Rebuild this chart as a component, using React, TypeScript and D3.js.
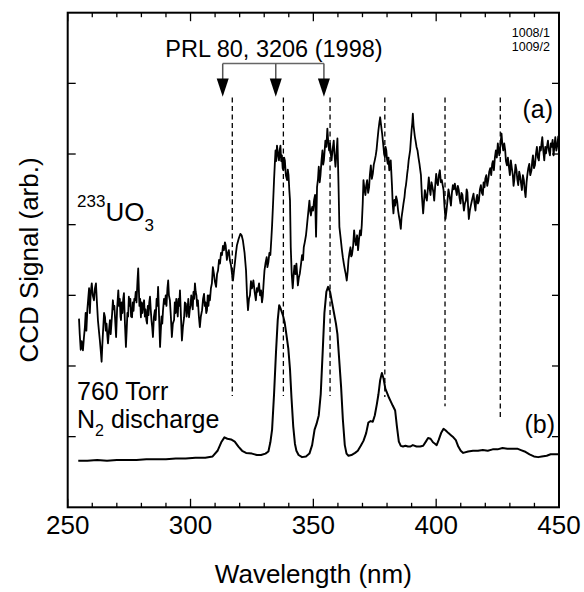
import React from 'react';
import * as d3 from 'd3';

// 233UO3 emission, trace (a) [wavelength nm, signal arb.]
const uo3Trace: [number, number][] = [
  [254.6, 2.67], [254.9, 2.45], [255.3, 2.23], [255.7, 2.35], [256.2, 2.22], [256.6, 2.4], [257.0, 2.55],
  [257.3, 2.75], [257.6, 2.5], [258.0, 2.8], [258.3, 2.93], [258.7, 3.1], [259.0, 2.75], [259.4, 3.05],
  [259.8, 3.17], [260.2, 3.0], [260.7, 2.93], [261.1, 3.1], [261.5, 3.17], [261.9, 2.9], [262.3, 2.65],
  [262.7, 2.5], [263.1, 2.36], [263.5, 2.2], [263.8, 2.06], [264.1, 2.3], [264.4, 2.5], [264.8, 2.75],
  [265.2, 2.69], [265.5, 2.5], [265.8, 2.6], [266.1, 2.45], [266.4, 2.32], [266.8, 2.5], [267.2, 2.65],
  [267.5, 2.45], [267.8, 2.6], [268.1, 2.75], [268.4, 2.93], [268.7, 2.8], [269.0, 2.85], [269.4, 2.6],
  [269.7, 2.41], [270.1, 2.8], [270.6, 3.07], [270.9, 2.85], [271.2, 2.95], [271.5, 2.7], [271.7, 2.65],
  [272.0, 2.9], [272.3, 2.75], [272.6, 2.95], [272.9, 3.03], [273.3, 2.6], [273.7, 2.27], [274.0, 2.5],
  [274.3, 2.75], [274.6, 2.7], [274.9, 2.98], [275.2, 2.85], [275.5, 2.95], [275.8, 2.7], [276.2, 2.69],
  [276.5, 2.9], [276.8, 2.78], [277.1, 2.95], [277.4, 2.93], [277.7, 3.05], [278.0, 2.9], [278.4, 3.2],
  [278.7, 3.38], [279.0, 3.05], [279.2, 2.85], [279.5, 2.95], [279.8, 2.69], [280.1, 2.9], [280.4, 2.75],
  [280.7, 2.85], [281.1, 2.93], [281.4, 2.7], [281.7, 2.8], [282.0, 2.65], [282.3, 2.6], [282.6, 2.85],
  [282.9, 2.72], [283.2, 2.9], [283.5, 2.98], [283.8, 2.8], [284.1, 2.65], [284.4, 2.55], [284.7, 2.41],
  [285.1, 2.7], [285.5, 2.79], [285.8, 2.65], [286.2, 2.95], [286.5, 2.85], [286.8, 3.12], [287.2, 2.7],
  [287.6, 2.27], [287.9, 2.5], [288.2, 2.7], [288.5, 2.6], [288.8, 2.79], [289.2, 2.95], [289.6, 2.88],
  [289.9, 3.0], [290.2, 2.85], [290.6, 3.1], [290.9, 3.21], [291.2, 3.0], [291.6, 2.93], [292.0, 2.7],
  [292.4, 2.41], [292.8, 2.6], [293.3, 2.65], [293.6, 2.9], [293.9, 2.75], [294.2, 2.95], [294.5, 2.83],
  [294.8, 2.7], [295.1, 2.95], [295.4, 2.85], [295.7, 3.07], [296.1, 2.7], [296.5, 2.36], [296.9, 2.55],
  [297.4, 2.69], [297.7, 2.9], [298.1, 2.88], [298.4, 2.7], [298.8, 2.8], [299.1, 2.95], [299.4, 2.69],
  [299.7, 2.8], [300.0, 2.85], [300.3, 3.0], [300.6, 2.93], [300.9, 2.8], [301.2, 3.05], [301.5, 2.95],
  [301.8, 3.17], [302.1, 3.05], [302.4, 3.0], [302.7, 2.85], [303.0, 2.93], [303.4, 2.7], [303.8, 2.55],
  [304.2, 2.7], [304.7, 2.79], [305.1, 2.95], [305.5, 3.02], [305.8, 2.85], [306.1, 2.9], [306.4, 2.75],
  [306.7, 2.79], [307.0, 3.0], [307.3, 2.85], [307.6, 3.0], [307.9, 2.93], [308.3, 3.1], [308.7, 3.17],
  [309.1, 3.4], [309.5, 3.31], [309.9, 3.2], [310.4, 3.12], [310.8, 3.3], [311.2, 3.35], [311.6, 3.5],
  [312.0, 3.45], [312.4, 3.6], [312.8, 3.57], [313.2, 3.7], [313.6, 3.64], [314.0, 3.75], [314.3, 3.71],
  [314.8, 3.5], [315.2, 3.6], [315.6, 3.64], [316.0, 3.5], [316.5, 3.42], [316.9, 3.3], [317.3, 3.21],
  [317.7, 3.35], [318.1, 3.47], [318.5, 3.6], [318.9, 3.71], [319.6, 3.8], [320.3, 3.87], [320.8, 3.85],
  [321.3, 3.78], [322.0, 3.6], [322.6, 3.35], [323.0, 3.0], [323.4, 2.79], [323.8, 2.95], [324.2, 3.0],
  [324.6, 3.2], [325.0, 3.1], [325.6, 3.21], [326.1, 3.05], [326.6, 2.93], [327.0, 3.1], [327.3, 3.05],
  [327.9, 3.17], [328.3, 3.0], [328.7, 3.07], [329.1, 2.9], [329.4, 2.98], [329.8, 3.2], [330.1, 3.35],
  [330.5, 3.45], [331.0, 3.54], [331.3, 3.4], [331.7, 3.47], [332.1, 3.6], [332.5, 3.57], [332.9, 3.8],
  [333.2, 3.99], [333.6, 4.3], [334.0, 4.63], [334.3, 4.85], [334.6, 5.05], [334.9, 4.9], [335.2, 5.12],
  [335.6, 5.0], [336.0, 4.91], [336.3, 5.05], [336.6, 5.12], [336.9, 4.9], [337.2, 4.98], [337.5, 4.8],
  [337.8, 4.77], [338.1, 4.95], [338.4, 4.91], [338.8, 4.7], [339.3, 4.63], [339.6, 4.78], [339.9, 4.7],
  [340.2, 4.5], [340.5, 4.34], [340.8, 3.68], [341.2, 3.3], [341.6, 3.1], [342.0, 3.3], [342.3, 3.42],
  [342.7, 3.3], [343.1, 3.45], [343.4, 3.3], [343.7, 3.14], [344.1, 3.25], [344.5, 3.31], [345.0, 3.45],
  [345.4, 3.57], [345.8, 3.5], [346.1, 3.68], [346.5, 3.75], [347.0, 3.85], [347.3, 3.95], [347.6, 4.06],
  [348.0, 4.2], [348.4, 4.34], [348.7, 4.2], [349.0, 4.13], [349.5, 4.25], [349.9, 4.2], [350.3, 4.35],
  [350.7, 4.42], [351.1, 3.83], [351.5, 4.53], [351.9, 4.65], [352.2, 4.82], [352.6, 4.6], [352.9, 4.7],
  [353.3, 4.9], [353.7, 5.05], [354.0, 4.85], [354.3, 4.91], [354.6, 5.05], [354.9, 5.19], [355.3, 5.1],
  [355.7, 5.36], [356.0, 5.2], [356.4, 5.05], [356.8, 5.15], [357.1, 5.0], [357.4, 4.91], [357.8, 5.05],
  [358.3, 5.19], [358.6, 5.0], [359.0, 4.82], [359.4, 5.0], [359.8, 5.22], [360.2, 4.63], [360.6, 3.97],
  [361.2, 3.78], [361.6, 3.65], [362.0, 3.54], [362.4, 3.45], [362.9, 3.35], [363.2, 3.3], [363.6, 3.21],
  [364.0, 3.35], [364.3, 3.5], [364.7, 3.6], [365.1, 3.68], [365.4, 3.55], [365.7, 3.57], [366.2, 3.7],
  [366.6, 3.92], [366.9, 3.8], [367.3, 3.71], [367.8, 3.85], [368.2, 3.64], [368.6, 3.8], [369.0, 3.92],
  [369.4, 3.85], [369.7, 3.99], [370.1, 4.3], [370.4, 4.63], [370.8, 4.5], [371.2, 4.42], [371.5, 4.55],
  [371.9, 4.63], [372.3, 4.45], [372.7, 4.53], [373.0, 4.7], [373.4, 4.84], [373.8, 4.65], [374.2, 4.72],
  [374.6, 4.85], [375.0, 4.91], [375.4, 4.98], [375.7, 5.05], [376.1, 5.2], [376.5, 5.34], [376.9, 5.45],
  [377.2, 5.52], [377.6, 5.4], [378.0, 5.29], [378.5, 5.12], [378.8, 5.0], [379.1, 4.96], [379.4, 5.1],
  [379.7, 5.05], [380.0, 4.92], [380.3, 4.86], [380.6, 4.95], [380.9, 4.77], [381.2, 4.85], [381.5, 4.91],
  [382.0, 4.56], [382.3, 4.3], [382.6, 4.16], [383.0, 4.35], [383.3, 4.27], [383.7, 4.4], [384.1, 4.34],
  [384.5, 4.2], [384.8, 4.13], [385.2, 4.05], [385.6, 3.94], [385.9, 4.1], [386.3, 4.2], [386.7, 4.3],
  [387.1, 4.39], [387.4, 4.5], [387.7, 4.56], [388.0, 4.65], [388.2, 4.72], [388.5, 4.8], [388.8, 4.91],
  [389.1, 4.98], [389.4, 5.05], [389.7, 5.2], [390.0, 5.34], [390.3, 5.45], [390.5, 5.57], [390.8, 5.4],
  [391.0, 5.34], [391.3, 5.25], [391.6, 5.19], [392.0, 5.1], [392.4, 5.05], [392.8, 4.95], [393.2, 4.86],
  [393.5, 4.78], [393.8, 4.7], [394.2, 4.4], [394.7, 4.16], [395.1, 4.35], [395.4, 4.49], [395.8, 4.4],
  [396.2, 4.34], [396.6, 4.5], [397.0, 4.67], [397.4, 4.5], [397.7, 4.42], [398.1, 4.6], [398.5, 4.53],
  [398.9, 4.45], [399.2, 4.34], [399.6, 4.55], [400.0, 4.72], [400.3, 4.6], [400.7, 4.56], [401.1, 4.7],
  [401.5, 4.77], [401.9, 4.6], [402.3, 4.63], [402.7, 4.55], [403.0, 4.49], [403.4, 4.25], [403.8, 4.08],
  [404.2, 4.2], [404.6, 4.34], [405.0, 4.5], [405.3, 4.44], [405.7, 4.35], [406.0, 4.27], [406.4, 4.45],
  [406.8, 4.56], [407.2, 4.5], [407.6, 4.58], [408.0, 4.5], [408.4, 4.42], [408.8, 4.55], [409.2, 4.49],
  [409.5, 4.38], [409.9, 4.3], [410.3, 4.45], [410.7, 4.42], [411.0, 4.3], [411.3, 4.2], [411.7, 4.3],
  [412.1, 4.34], [412.4, 4.5], [412.7, 4.46], [413.0, 4.25], [413.3, 4.08], [413.7, 4.2], [414.1, 4.27],
  [414.6, 4.35], [415.2, 4.44], [415.6, 4.3], [416.0, 4.2], [416.3, 4.35], [416.7, 4.42], [417.0, 4.3],
  [417.4, 4.34], [417.8, 4.5], [418.2, 4.56], [418.6, 4.45], [419.0, 4.42], [419.3, 4.6], [419.7, 4.53],
  [420.0, 4.65], [420.4, 4.7], [420.8, 4.55], [421.2, 4.63], [421.6, 4.75], [422.0, 4.8], [422.4, 4.7],
  [422.8, 4.86], [423.1, 4.9], [423.5, 4.77], [423.9, 4.95], [424.3, 5.05], [424.7, 4.95], [425.1, 5.15],
  [425.4, 5.05], [425.7, 4.98], [426.2, 5.15], [426.6, 5.29], [426.9, 5.15], [427.3, 5.05], [427.7, 5.15],
  [428.1, 5.05], [428.4, 4.9], [428.8, 4.84], [429.2, 4.95], [429.6, 4.82], [430.0, 4.7], [430.4, 4.91],
  [430.8, 4.8], [431.2, 4.7], [431.5, 4.55], [431.8, 4.63], [432.3, 4.85], [432.7, 4.77], [433.0, 4.65],
  [433.4, 4.56], [433.8, 4.75], [434.1, 4.7], [434.5, 4.6], [434.9, 4.49], [435.3, 4.7], [435.7, 4.63],
  [436.0, 4.5], [436.4, 4.39], [436.8, 4.6], [437.1, 4.7], [437.5, 4.8], [437.9, 4.86], [438.3, 4.7],
  [438.8, 4.77], [439.1, 4.9], [439.4, 4.98], [439.8, 4.8], [440.2, 4.84], [440.6, 5.0], [441.0, 5.1],
  [441.4, 4.95], [441.8, 4.91], [442.2, 5.1], [442.6, 5.05], [442.9, 5.15], [443.2, 5.24], [443.6, 5.05],
  [444.0, 4.91], [444.4, 5.1], [444.7, 5.01], [445.1, 5.1], [445.5, 5.19], [445.9, 5.05], [446.3, 4.98],
  [446.7, 5.15], [447.0, 5.1], [447.4, 5.2], [447.8, 4.98], [448.1, 5.1], [448.5, 5.24], [448.9, 5.05],
  [449.3, 5.12], [449.7, 5.25], [450.0, 5.19],
];

// 760 Torr N2 discharge, trace (b)
const n2Trace: [number, number][] = [
  [254.3, 0.66], [258, 0.66], [262, 0.67], [266, 0.66], [270, 0.67], [274, 0.67], [278, 0.67],
  [282, 0.68], [286, 0.68], [290, 0.68], [294, 0.69], [298, 0.69], [302, 0.7], [306, 0.7], [309, 0.72],
  [311, 0.8], [312.5, 0.92], [313.8, 0.99], [315, 0.97], [316.5, 0.96], [318, 0.93], [319.5, 0.86],
  [321, 0.8], [322.6, 0.77], [325, 0.76], [327, 0.74], [328.7, 0.74], [330.5, 0.76], [331.7, 0.79],
  [332.5, 0.92], [333.2, 1.1], [334, 1.6], [334.8, 2.2], [335.5, 2.65], [336.1, 2.86], [336.8, 2.8],
  [337.6, 2.72], [338.3, 2.62], [339, 2.45], [339.8, 2.25], [340.5, 1.95], [341.1, 1.55], [341.8, 1.15],
  [342.5, 0.9], [343.1, 0.8], [344, 0.74], [345.4, 0.71], [347, 0.72], [348.4, 0.76], [349.5, 0.88],
  [350.5, 1.1], [351.3, 1.18], [352.2, 1.3], [353, 1.6], [353.8, 2.2], [354.5, 2.75], [355.3, 3.05],
  [356, 3.12], [356.8, 3.05], [357.6, 2.9], [358.4, 2.75], [359.2, 2.6], [359.8, 2.45], [360.5, 2.1],
  [361.3, 1.7], [362, 1.25], [362.8, 0.88], [363.5, 0.76], [364.3, 0.73], [365.5, 0.74], [367, 0.77],
  [368.1, 0.8], [369.3, 0.87], [370.4, 0.94], [371.5, 1.05], [372.4, 1.2], [373.3, 1.22], [374.2, 1.21],
  [375, 1.3], [375.8, 1.45], [376.5, 1.6], [377.2, 1.8], [377.9, 1.9], [378.6, 1.82], [379.3, 1.68],
  [380, 1.62], [380.8, 1.55], [381.5, 1.5], [382.3, 1.44], [383.3, 1.37], [384, 1.15], [384.8, 0.93],
  [385.6, 0.87], [386.5, 0.86], [387.5, 0.87], [388.5, 0.86], [389.4, 0.86], [390.5, 0.88], [392, 0.86],
  [393.5, 0.86], [394.7, 0.87], [395.8, 0.93], [396.7, 0.98], [397.7, 0.97], [398.7, 0.92], [399.5, 0.9],
  [400.2, 0.88], [401, 0.95], [402, 1.05], [403, 1.11], [403.8, 1.09], [405, 1.05], [406, 1.02],
  [407, 0.99], [408, 0.95], [409, 0.86], [410, 0.8], [411, 0.77], [413, 0.79], [415, 0.8], [417, 0.8],
  [419, 0.81], [421, 0.8], [423, 0.82], [425, 0.82], [427, 0.84], [429, 0.83], [431, 0.83], [433, 0.83],
  [434.5, 0.81], [436, 0.79], [438, 0.75], [439.8, 0.72], [441.5, 0.71], [443, 0.72], [445, 0.73],
  [446.6, 0.75], [448, 0.75], [450, 0.75],
];

// dashed markers: wavelength, top and bottom in signal units
const markerWave = [317, 337.8, 356.8, 379.1, 403.6, 426.1];
const markerTop = [5.8, 5.8, 5.8, 5.8, 5.8, 5.8];
const markerBottom = [1.575, 1.575, 1.575, 1.56, 1.43, 1.235];

// PRL 80, 3206 arrows
const arrowWave = [313.1, 334.7, 354.3];

const xTicks = d3.range(250, 451, 10);
const xLabels = [250, 300, 350, 400, 450];
const yTicks = [1, 2, 3, 4, 5, 6];

const W = 584;
const H = 592;
const margin = { left: 67.7, right: 25, top: 12.7, bottom: 84.7 };
const font = '"Liberation Sans", Arial, Helvetica, sans-serif';

export default function App() {
  const x = d3.scaleLinear().domain([250, 450]).range([margin.left, W - margin.right]);
  const y = d3.scaleLinear().domain([0, 7]).range([H - margin.bottom, margin.top]);
  const line = d3.line<[number, number]>().x(d => x(d[0])).y(d => y(d[1]));

  const x0 = x(250), x1 = x(450), y0 = y(0), y1 = y(7);
  const bracketY = y(6.28);
  const headTop = y(6.07);
  const headTip = y(5.81);

  return (
    <div style={{ position: 'absolute', left: 0, top: 0 }}>
      <svg width={W} height={H} style={{ display: 'block', background: '#fff' }} fontFamily={font}>
        {/* traces */}
        <path d={line(uo3Trace) || ''} fill="none" stroke="#000" strokeWidth={1.8} strokeLinejoin="round" />
        <path d={line(n2Trace) || ''} fill="none" stroke="#000" strokeWidth={2} strokeLinejoin="round" />

        {/* dashed markers */}
        {markerWave.map((w, i) => (
          <line key={'m' + i} x1={x(w)} x2={x(w)} y1={y(markerTop[i])} y2={y(markerBottom[i])}
            stroke="#000" strokeWidth={1.3} strokeDasharray="5,3.5" />
        ))}

        {/* arrows */}
        <line x1={x(arrowWave[0])} x2={x(arrowWave[2])} y1={bracketY} y2={bracketY} stroke="#666" strokeWidth={1.5} />
        {arrowWave.map((w, i) => (
          <g key={'a' + i}>
            <line x1={x(w)} x2={x(w)} y1={bracketY} y2={headTop + 1} stroke="#555" strokeWidth={1.5} />
            <path d={`M${x(w) - 6},${headTop} L${x(w) + 6},${headTop} L${x(w)},${headTip} Z`} fill="#000" />
          </g>
        ))}
        <text x={274} y={57} fontSize={23.5} textAnchor="middle">PRL 80, 3206 (1998)</text>

        {/* frame */}
        <rect x={x0} y={y1} width={x1 - x0} height={y0 - y1} fill="none" stroke="#000" strokeWidth={2} />

        {/* x ticks (bottom and top, inward) */}
        {xTicks.map(t => {
          const len = t % 50 === 0 ? 8.5 : 4.5;
          return (
            <g key={'xt' + t}>
              <line x1={x(t)} x2={x(t)} y1={y0} y2={y0 - len} stroke="#000" strokeWidth={1.3} />
              <line x1={x(t)} x2={x(t)} y1={y1} y2={y1 + len} stroke="#000" strokeWidth={1.3} />
            </g>
          );
        })}
        {/* y ticks (left and right, inward) */}
        {yTicks.map(t => (
          <g key={'yt' + t}>
            <line x1={x0} x2={x0 + 8} y1={y(t)} y2={y(t)} stroke="#000" strokeWidth={1.3} />
            <line x1={x1} x2={x1 - 7} y1={y(t)} y2={y(t)} stroke="#000" strokeWidth={1.3} />
          </g>
        ))}

        {/* tick labels */}
        {xLabels.map(t => (
          <text key={'xl' + t} x={x(t)} y={534} fontSize={26} textAnchor="middle">{t}</text>
        ))}

        {/* axis titles */}
        <text x={x((250 + 450) / 2)} y={583} fontSize={26} textAnchor="middle">Wavelength (nm)</text>
        <text transform={`translate(38,${(y0 + y1) / 2}) rotate(-90)`} fontSize={26} textAnchor="middle">
          CCD Signal (arb.)
        </text>

        {/* annotations */}
        <text x={550} y={37} fontSize={12.5} textAnchor="end">
          <tspan x={550}>1008/1</tspan>
          <tspan x={550} dy={13.5}>1009/2</tspan>
        </text>
        <text x={553} y={118} fontSize={25} textAnchor="end">(a)</text>
        <text x={555} y={433} fontSize={25} textAnchor="end">(b)</text>

        <text x={77} y={221} fontSize={26}>
          <tspan fontSize={17} dy={-14}>233</tspan>
          <tspan dy={14}>UO</tspan>
          <tspan fontSize={17} dy={10}>3</tspan>
        </text>
        <text x={77} y={400} fontSize={25}>760 Torr</text>
        <text x={77} y={428} fontSize={25}>
          N<tspan fontSize={16} dy={8}>2</tspan><tspan dy={-8}> discharge</tspan>
        </text>
      </svg>
    </div>
  );
}
